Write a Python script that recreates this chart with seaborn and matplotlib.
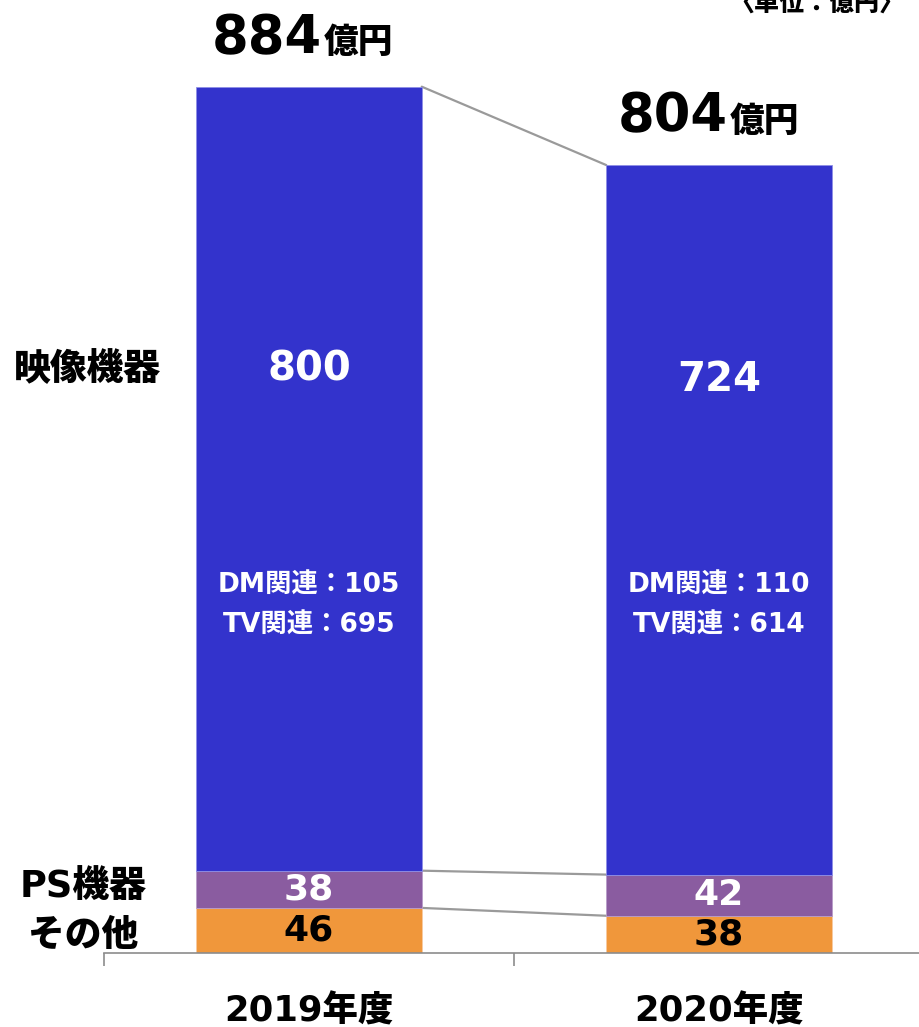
import matplotlib
matplotlib.use("Agg")
import matplotlib.pyplot as plt
import seaborn as sns
import pandas as pd
import numpy as np

years = ["2019年度", "2020年度"]
other = [46, 38]
ps = [38, 42]
video = [800, 724]
totals = [884, 804]
dm = [105, 110]
tv = [695, 614]
seg_names = ["映像機器", "PS機器", "その他"]

C_VIDEO = "#3333CC"
C_PS = "#8A5CA0"
C_OTHER = "#F0973B"
C_LINE = "#9A9A9A"

sns.set_style("white")
plt.rcParams['font.family'] = ['DejaVu Sans', 'Noto Sans CJK JP']
plt.rcParams['font.weight'] = 'bold'

fig = plt.figure(figsize=(9.2, 10.27), dpi=100)
ax = fig.add_axes([104/920, 74/1027, 820/920, 940.8/1027])

W = 0.55
df = pd.DataFrame({"year": years, "other": other, "ps": ps, "video": video})
b_ps = np.array(other)
b_video = np.array(other) + np.array(ps)
sns.barplot(data=df, x="year", y="other", color=C_OTHER, width=W, ax=ax,
            saturation=1, edgecolor="#F7C9A0", linewidth=0.6)
sns.barplot(data=df, x="year", y="ps", bottom=b_ps, color=C_PS, width=W, ax=ax,
            saturation=1, edgecolor="#B89CC8", linewidth=0.6)
sns.barplot(data=df, x="year", y="video", bottom=b_video, color=C_VIDEO, width=W, ax=ax,
            saturation=1, edgecolor="#8F8FE6", linewidth=0.6)

ax.set_xlim(-0.5, 1.5)
ax.set_ylim(0, 960)
ax.set_xlabel("")
ax.set_ylabel("")
ax.set_yticks([])
for s in ["left", "right", "top"]:
    ax.spines[s].set_visible(False)
ax.spines["bottom"].set_color("#8C8C8C")
ax.spines["bottom"].set_linewidth(1.2)

ax.set_xticks([0, 1])
ax.set_xticklabels(years, fontsize=25.5, fontweight='heavy', color='black')
ax.set_xticks([-0.5, 0.5, 1.5], minor=True)
ax.tick_params(axis='x', which='major', length=0, pad=30, labelcolor='black')
ax.tick_params(axis='x', which='minor', bottom=True, length=9, width=1.2,
               color="#8C8C8C", direction='out')

# connector lines
x0 = 0 + W/2
x1 = 1 - W/2
tops = [np.array(totals), b_video, b_ps]
for t in tops:
    ax.plot([x0, x1], [t[0], t[1]], color=C_LINE, lw=1.6, zorder=0.5)

# labels in segments
for i in range(2):
    ax.text(i, other[i]/2, str(other[i]), ha='center', va='center',
            fontsize=26, fontweight='bold', color='black')
    ax.text(i, other[i] + ps[i]/2, str(ps[i]), ha='center', va='center',
            fontsize=26, fontweight='bold', color='white')

ax.text(0, 595, str(video[0]), ha='center', va='center', fontsize=29, fontweight='bold', color='white')
ax.text(1, 585, str(video[1]), ha='center', va='center', fontsize=29, fontweight='bold', color='white')
for i in range(2):
    ax.text(i, 375, f"DM関連：{dm[i]}", ha='center', va='center', fontsize=19, fontweight='bold', color='white')
    ax.text(i, 334, f"TV関連：{tv[i]}", ha='center', va='center', fontsize=19, fontweight='bold', color='white')

# totals
num_end = [0.032, 1.022]
for i in range(2):
    base = totals[i] + 34
    ax.text(num_end[i], base, str(totals[i]), ha='right', va='baseline',
            fontsize=38, fontweight='bold', color='black')
    ax.text(num_end[i] + 0.004, base, "億円", ha='left', va='baseline',
            fontsize=25, fontweight='heavy', color='black')

# left segment names
ax.text(-0.54, 595, seg_names[0], ha='center', va='center', fontsize=26.5, fontweight='heavy', color='black')
ax.text(-0.55, 68, seg_names[1], ha='center', va='center', fontsize=26.5, fontweight='heavy', color='black')
ax.text(-0.55, 18, seg_names[2], ha='center', va='center', fontsize=26.5, fontweight='heavy', color='black')

fig.text(817/920, 1 - 4/1027, "〈単位：億円〉", ha='center', va='center', fontsize=18,
         fontweight='heavy', color='black')

fig.savefig("out.png", dpi=100)
